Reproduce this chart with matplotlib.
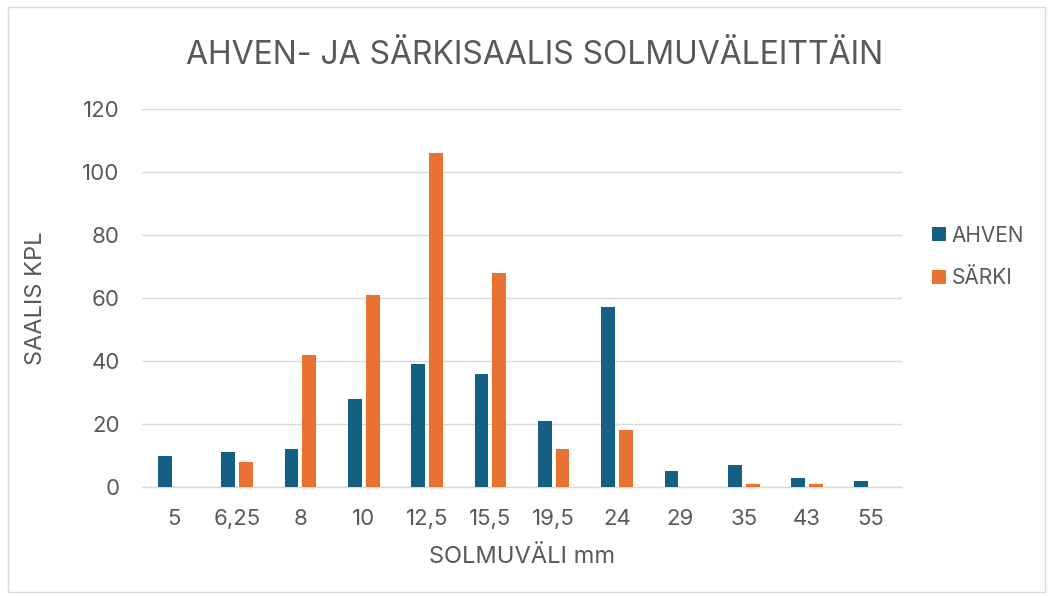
import matplotlib
matplotlib.use("Agg")
import matplotlib.pyplot as plt
import numpy as np
from matplotlib.patches import Rectangle

categories = ["5", "6,25", "8", "10", "12,5", "15,5", "19,5", "24", "29", "35", "43", "55"]
ahven = [10, 11, 12, 28, 39, 36, 21, 57, 5, 7, 3, 2]
sarki = [0, 8, 42, 61, 106, 68, 12, 18, 0, 1, 1, 0]
yticks = [0, 20, 40, 60, 80, 100, 120]

C_AHVEN = "#156082"
C_SARKI = "#E97132"
TXT = "#595959"

plt.rcParams['font.family'] = ['Inter', 'DejaVu Sans']

W, H = 1053, 597
fig = plt.figure(figsize=(W/100, H/100), dpi=100)
fig.patches.append(Rectangle((8/W, 1-592/H), 1037/W, 585/H, transform=fig.transFigure,
                             fill=False, edgecolor="#D9D9D9", linewidth=1))

ax = fig.add_axes([142/W, 1-487/H, (902-142)/W, (487-109)/H])
x = np.arange(len(categories))
bw = 0.22
ax.bar(x - 0.14, ahven, bw, color=C_AHVEN, label="AHVEN", zorder=3)
ax.bar(x + 0.14, sarki, bw, color=C_SARKI, label="SÄRKI", zorder=3)

ax.set_xlim(-0.5, len(categories) - 0.5)
ax.set_ylim(0, 120)
ax.set_yticks(yticks)
ax.set_xticks(x)
ax.set_xticklabels(categories)
ax.grid(axis='y', color="#D9D9D9", linewidth=1, zorder=0)
for s in ["top", "right", "left"]:
    ax.spines[s].set_visible(False)
ax.spines["bottom"].set_color("#D9D9D9")
ax.spines["bottom"].set_linewidth(1)
ax.tick_params(axis='both', length=0, labelsize=16, colors=TXT)
ax.tick_params(axis='x', pad=16)
ax.tick_params(axis='y', pad=16)

ax.set_xlabel("SOLMUVÄLI mm", fontsize=17, color=TXT)
ax.set_ylabel("SAALIS KPL", fontsize=17, color=TXT)
ax.xaxis.set_label_coords(0.5, (487 - 546) / 378)
ax.yaxis.set_label_coords((47 - 142) / 760, 0.5)
fig.text(535/W, 1-55/H, "AHVEN- JA SÄRKISAALIS SOLMUVÄLEITTÄIN", ha="center", va="center",
         fontsize=23, color=TXT)

leg = ax.legend(loc="center left", bbox_to_anchor=(913/W, 1-257/H), bbox_transform=fig.transFigure,
                frameon=False, fontsize=15, handlelength=0.67, handleheight=0.67,
                labelspacing=1.1, handletextpad=0.3)
for t in leg.get_texts():
    t.set_color(TXT)

fig.savefig("out.png", dpi=100)
